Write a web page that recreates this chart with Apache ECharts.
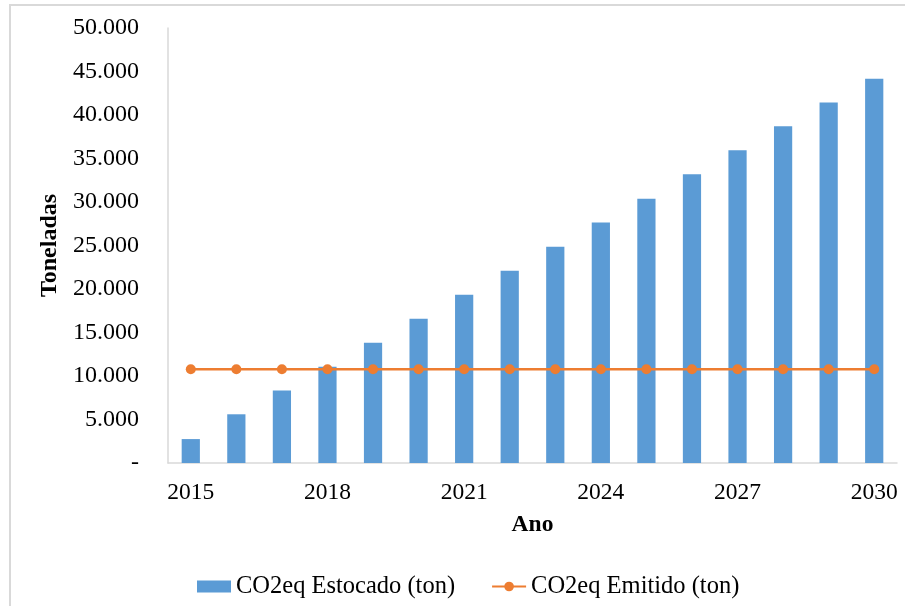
<!DOCTYPE html>
<html>
<head>
<meta charset="utf-8">
<script src="https://cdn.jsdelivr.net/npm/echarts@6/dist/echarts.min.js"></script>
<style>
  html, body { margin: 0; padding: 0; background: #fff; }
  #chart { width: 905px; height: 606px; }
</style>
</head>
<body>
<div id="chart"></div>
<script>
const years = ["2015", "2016", "2017", "2018", "2019", "2020", "2021", "2022",
  "2023", "2024", "2025", "2026", "2027", "2028", "2029", "2030"];
const estocado = [2750, 5600, 8320, 11060, 13820, 16580, 19340, 22100,
  24850, 27640, 30380, 33200, 35960, 38700, 41450, 44180];
const emitido = [10780, 10780, 10780, 10780, 10780, 10780, 10780, 10780,
  10780, 10780, 10780, 10780, 10780, 10780, 10780, 10780];

const chart = echarts.init(document.getElementById("chart"));
const font = "'Liberation Serif', 'Times New Roman', serif";

const fmt = (v) => {
  if (v === 0) return "-";
  return String(v / 1000) + ".000";
};

chart.setOption({
  animation: false,
  textStyle: { fontFamily: font },
  graphic: [{
    type: "rect",
    shape: { x: 10, y: 5, width: 905, height: 620 },
    style: { fill: "none", stroke: "#d9d9d9", lineWidth: 2 },
    silent: true
  }],
  grid: { left: 168, right: 8, top: 28, bottom: 143 },
  legend: {
    top: 569,
    left: 192,
    itemGap: 36,
    itemWidth: 34,
    itemHeight: 12,
    textStyle: { fontFamily: font, fontSize: 24.5, color: "#000" },
    data: [
      { name: "CO2eq Estocado (ton)", icon: "rect" },
      { name: "CO2eq Emitido (ton)" }
    ]
  },
  xAxis: {
    type: "category",
    data: years,
    name: "Ano",
    nameLocation: "middle",
    nameGap: 50,
    nameTextStyle: { fontFamily: font, fontSize: 23.5, fontWeight: "bold", color: "#000" },
    axisLine: { lineStyle: { color: "#d9d9d9", width: 1.5 } },
    axisTick: { show: false },
    axisLabel: { interval: 2, margin: 18, fontSize: 23.5, color: "#000", fontFamily: font }
  },
  yAxis: {
    type: "value",
    min: 0,
    max: 50000,
    interval: 5000,
    name: "Toneladas",
    nameLocation: "middle",
    nameGap: 106,
    nameTextStyle: { fontFamily: font, fontSize: 24, fontWeight: "bold", color: "#000" },
    axisLine: { show: true, lineStyle: { color: "#d9d9d9", width: 1.5 } },
    axisTick: { show: false },
    splitLine: { show: false },
    axisLabel: { margin: 29, fontSize: 24, color: "#000", fontFamily: font, formatter: fmt }
  },
  series: [
    {
      name: "CO2eq Estocado (ton)",
      type: "bar",
      data: estocado,
      barWidth: "40%",
      itemStyle: { color: "#5B9BD5" }
    },
    {
      name: "CO2eq Emitido (ton)",
      type: "line",
      data: emitido,
      symbol: "circle",
      symbolSize: 10,
      itemStyle: { color: "#ED7D31" },
      lineStyle: { color: "#ED7D31", width: 2.5 }
    }
  ]
});
</script>
</body>
</html>
